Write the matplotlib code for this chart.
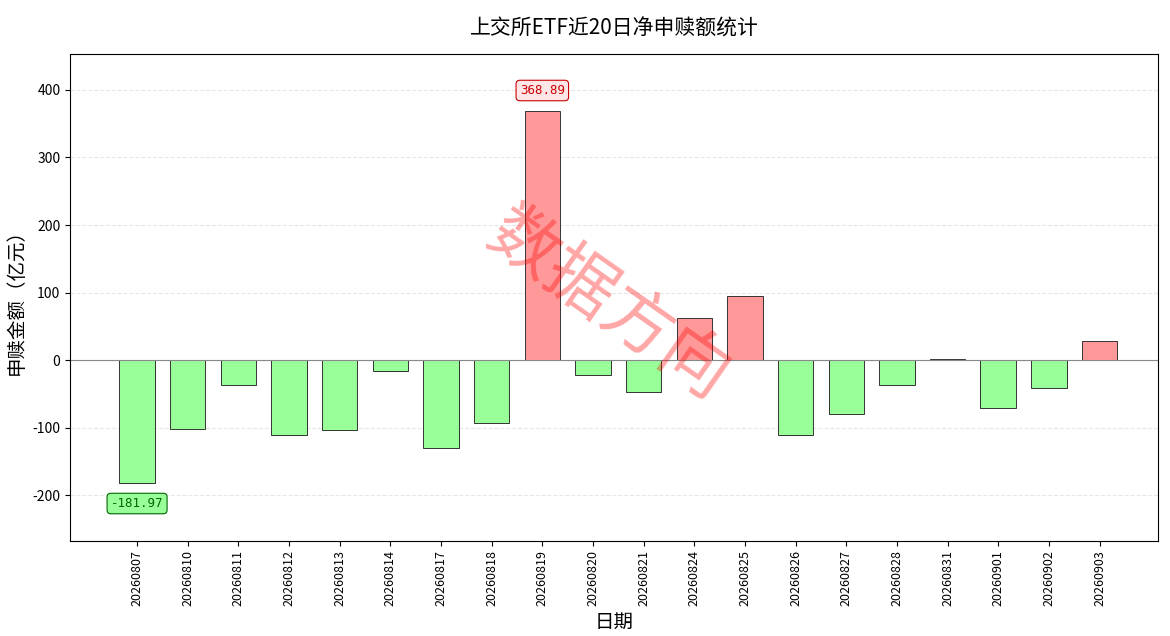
import matplotlib
matplotlib.use("Agg")
import matplotlib.pyplot as plt
import numpy as np

plt.rcParams['font.family'] = ['Noto Sans CJK SC', 'DejaVu Sans']
plt.rcParams['axes.unicode_minus'] = False

dates = ["20260807","20260810","20260811","20260812","20260813","20260814","20260817","20260818",
         "20260819","20260820","20260821","20260824","20260825","20260826","20260827","20260828",
         "20260831","20260901","20260902","20260903"]
values = [-181.97,-102,-36,-110,-104,-16,-130,-93,368.89,-22,-47,62,95,-111,-80,-37,2,-71,-41,28]

fig, ax = plt.subplots(figsize=(11.7, 6.36), dpi=100)
fig.subplots_adjust(left=0.06, right=0.99, top=0.915, bottom=0.15)
x = np.arange(len(dates))
colors = ['#ff9999' if v > 0 else '#99ff99' for v in values]
ax.bar(x, values, width=0.7, color=colors, edgecolor='#333333', linewidth=0.7)
ax.axhline(0, color='#888888', linewidth=0.8)
ax.set_xticks(x)
ax.set_xticklabels(dates, rotation=90, fontsize=9)
ax.set_xlim(-1.32, len(dates) - 1 + 1.16)
ax.set_ylim(-267, 453)
ax.set_yticks([-200, -100, 0, 100, 200, 300, 400])
ax.tick_params(axis='y', labelsize=10)
ax.grid(axis='y', linestyle='--', alpha=0.3)
ax.set_axisbelow(True)
ax.set_xlabel('日期', fontsize=14)
ax.set_ylabel('申赎金额（亿元）', fontsize=14)
ax.set_title('上交所ETF近20日净申赎额统计', fontsize=15, pad=14)

imax = int(np.argmax(values)); imin = int(np.argmin(values))
ax.annotate(f'{values[imax]:.2f}', (x[imax], values[imax]), xytext=(0, 10), textcoords='offset points',
            ha='center', va='bottom', fontsize=9, color='#cc0000', family='DejaVu Sans Mono',
            bbox=dict(boxstyle='round,pad=0.3', fc='#ffe6e6', ec='#cc0000', lw=0.8))
ax.annotate(f'{values[imin]:.2f}', (x[imin], values[imin]), xytext=(0, -10), textcoords='offset points',
            ha='center', va='top', fontsize=9, color='#006600', family='DejaVu Sans Mono',
            bbox=dict(boxstyle='round,pad=0.3', fc='#99ff99', ec='#006600', lw=0.8))

fig.text(0.52, 0.52, '数据方向', fontsize=50, color='red', alpha=0.35, rotation=-35,
         ha='center', va='center')
fig.savefig('out.png')
